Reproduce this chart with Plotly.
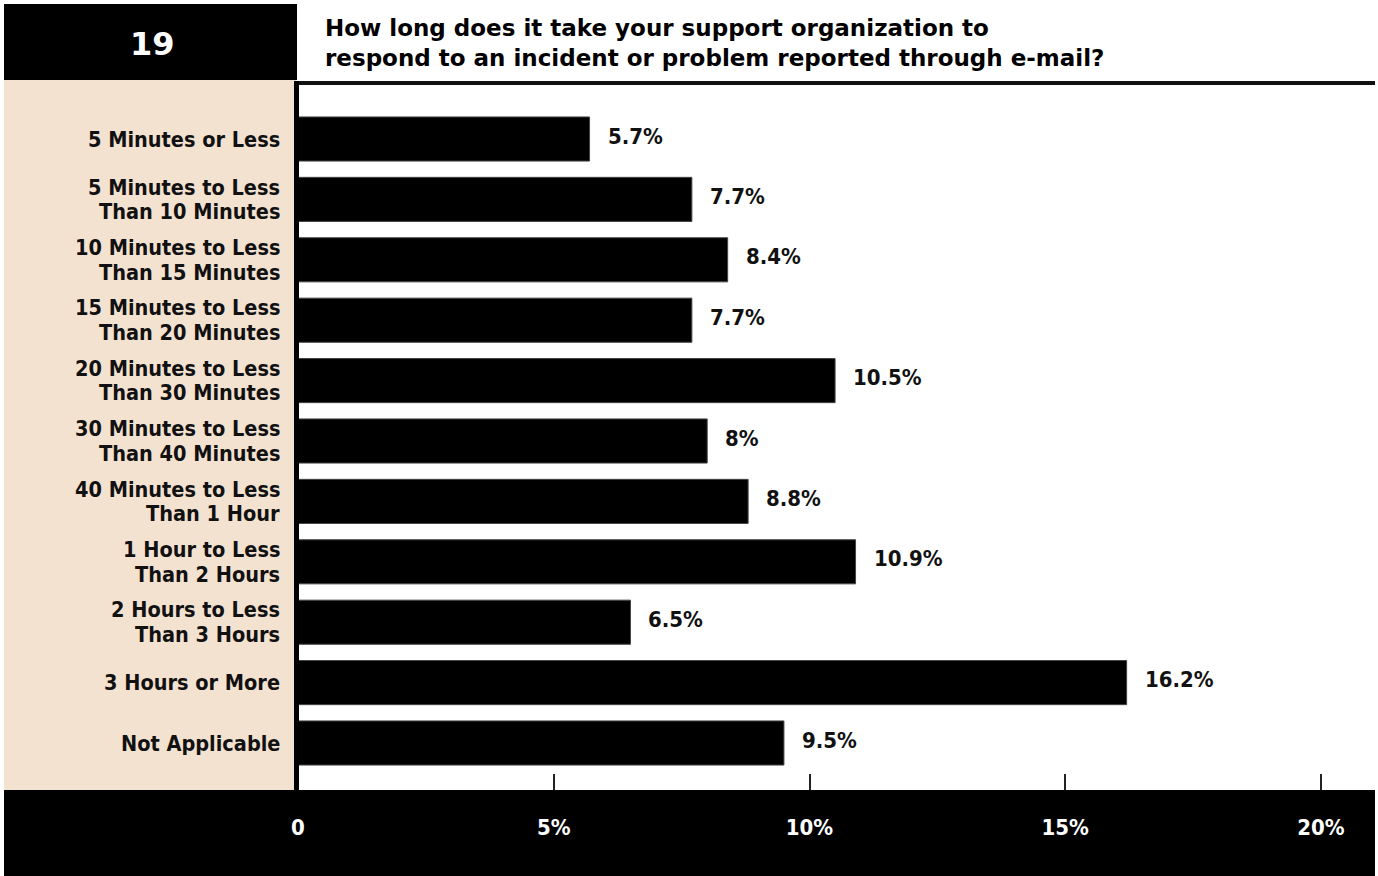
import plotly.graph_objects as go

# Survey question 19: response time to e-mail reported incidents
categories = [
    "5 Minutes or Less",
    "5 Minutes to Less<br>Than 10 Minutes",
    "10 Minutes to Less<br>Than 15 Minutes",
    "15 Minutes to Less<br>Than 20 Minutes",
    "20 Minutes to Less<br>Than 30 Minutes",
    "30 Minutes to Less<br>Than 40 Minutes",
    "40 Minutes to Less<br>Than 1 Hour",
    "1 Hour to Less<br>Than 2 Hours",
    "2 Hours to Less<br>Than 3 Hours",
    "3 Hours or More",
    "Not Applicable",
]
percentages = [5.7, 7.7, 8.4, 7.7, 10.5, 8.0, 8.8, 10.9, 6.5, 16.2, 9.5]
tick_values = [0, 5, 10, 15, 20]
tick_labels = ["0", "5%", "10%", "15%", "20%"]
question_number = "19"
question_lines = [
    "How long does it take your support organization to",
    "respond to an incident or problem reported through e-mail?",
]

W, H = 1378, 876
COND = "DejaVu Sans Condensed, Liberation Sans Narrow, sans-serif"
HEAVY = "DejaVu Sans, sans-serif"
BEIGE = "#F4E2D1"


def px(x):
    return x / W


def py(y):
    return 1 - y / H


fig = go.Figure()
fig.add_trace(go.Bar(
    x=percentages,
    y=list(range(len(categories))),
    orientation="h",
    marker=dict(color="#000000", line=dict(width=1, color="#444444")),
    width=0.73,
    hoverinfo="skip",
))

shapes = []
# header block with question number
shapes.append(dict(type="rect", xref="paper", yref="paper",
                   x0=px(4), x1=px(297), y0=py(80), y1=py(4),
                   fillcolor="#000000", line=dict(width=0), layer="below"))
# beige label panel
shapes.append(dict(type="rect", xref="paper", yref="paper",
                   x0=px(4), x1=px(296), y0=py(790), y1=py(80),
                   fillcolor=BEIGE, line=dict(width=0), layer="below"))
# rule under the question
shapes.append(dict(type="rect", xref="paper", yref="paper",
                   x0=px(295), x1=px(1375), y0=py(85), y1=py(81),
                   fillcolor="#111111", line=dict(width=0), layer="above"))
# left edge of plot area
shapes.append(dict(type="rect", xref="paper", yref="paper",
                   x0=px(294), x1=px(299), y0=py(790), y1=py(81),
                   fillcolor="#000000", line=dict(width=0), layer="above"))
# bottom axis band
shapes.append(dict(type="rect", xref="paper", yref="paper",
                   x0=px(4), x1=px(1375), y0=py(876), y1=py(790),
                   fillcolor="#000000", line=dict(width=0), layer="below"))

annotations = []
annotations.append(dict(text=question_number, xref="paper", yref="paper",
                        x=px(152), y=py(44), xanchor="center", yanchor="middle",
                        showarrow=False,
                        font=dict(family=HEAVY, size=32, color="white", weight="bold")))
for i, line in enumerate(question_lines):
    annotations.append(dict(text=line, xref="paper", yref="paper",
                            x=px(323), y=py(28 + 30 * i), xanchor="left", yanchor="middle",
                            showarrow=False,
                            font=dict(family=HEAVY, size=23, color="#000000", weight="bold")))

# category labels, one annotation per text line for tight leading
LEAD = 24.5
for idx, cat in enumerate(categories):
    lines = cat.split("<br>")
    n = len(lines)
    for j, line in enumerate(lines):
        annotations.append(dict(text=line, xref="paper", yref="y",
                                x=px(282), y=idx, xanchor="right", yanchor="middle",
                                yshift=((n - 1) / 2 - j) * LEAD,
                                showarrow=False,
                                font=dict(family=COND, size=21.5, color="#111111", weight="bold")))

# value labels at bar ends
for idx, v in enumerate(percentages):
    annotations.append(dict(text=f"{v:g}%", xref="x", yref="y",
                            x=v, y=idx, xanchor="left", yanchor="middle",
                            xshift=16, yshift=3, showarrow=False,
                            font=dict(family=COND, size=22, color="#111111", weight="bold")))

x_max = (1375 - 298) / ((1321 - 298) / 20)
step = (743 - 139) / 10
y_top = -(139 - 85) / step
y_bot = 10 + (790 - 743) / step

fig.update_layout(
    width=W, height=H,
    margin=dict(l=0, r=0, t=0, b=0, autoexpand=False),
    paper_bgcolor="white",
    plot_bgcolor="white",
    showlegend=False,
    shapes=shapes,
    annotations=annotations,
    xaxis=dict(
        domain=[px(298), px(1375)],
        range=[0, x_max],
        tickvals=tick_values,
        ticktext=tick_labels,
        ticks="inside", ticklen=16, tickwidth=2, tickcolor="#222222",
        ticklabelstandoff=22,
        tickfont=dict(family=COND, size=22, color="white", weight="bold"),
        showgrid=False, zeroline=False, showline=False,
        automargin=False,
        fixedrange=True,
    ),
    yaxis=dict(
        domain=[1 - 790 / H, 1 - 85 / H],
        range=[y_bot, y_top],
        showticklabels=False, showgrid=False, zeroline=False, showline=False,
        ticks="",
        automargin=False,
        fixedrange=True,
    ),
)

fig.write_html("out.html")
